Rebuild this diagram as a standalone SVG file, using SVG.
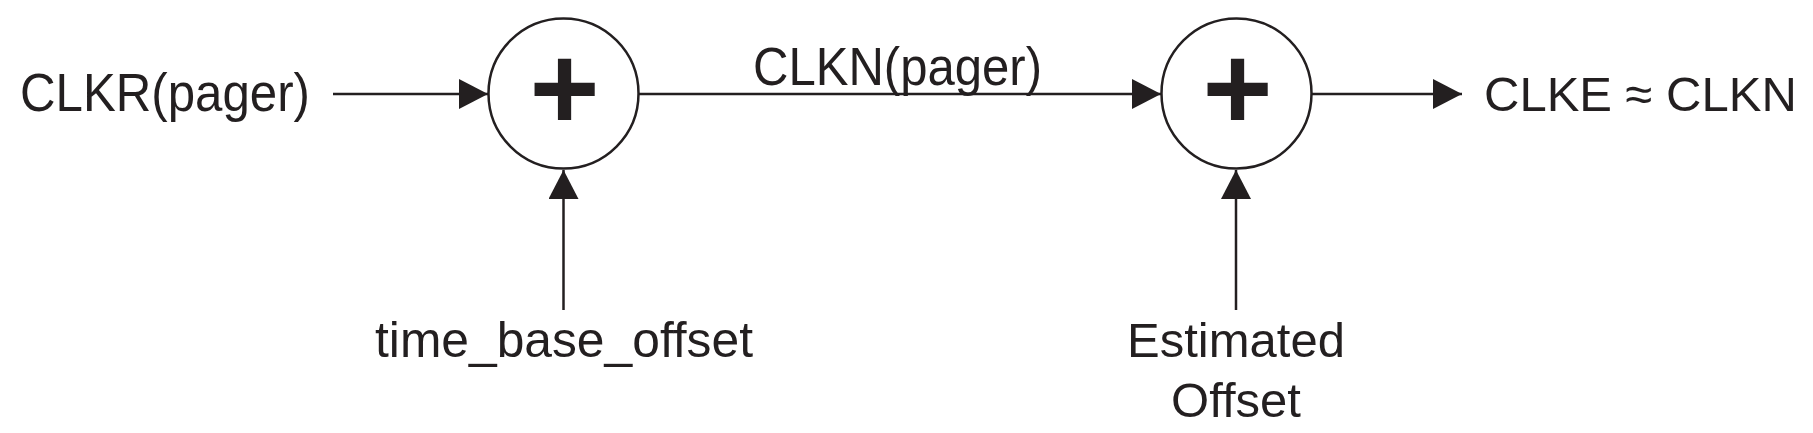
<svg xmlns="http://www.w3.org/2000/svg" width="1813" height="433" viewBox="0 0 1813 433">
<style>
  .lbl { font-family: "Liberation Sans", Arial, sans-serif; fill: #231f20; }
  .edge { stroke: #231f20; stroke-width: 2.5; fill: none; }
  .sum { stroke: #231f20; stroke-width: 2.5; fill: #ffffff; }
  .plus { font-family: "Liberation Sans", Arial, sans-serif; font-weight: bold; fill: #231f20; }
</style>
<defs>
  <marker id="arrow" markerUnits="userSpaceOnUse" markerWidth="30" markerHeight="31" refX="29" refY="15" orient="auto">
    <path d="M0,0 L29,15 L0,30 z" fill="#231f20"/>
  </marker>
</defs>
<rect width="1813" height="433" fill="#ffffff"/>
<g id="connectors">
  <line class="edge" x1="333" y1="94" x2="488" y2="94" marker-end="url(#arrow)"/>
  <line class="edge" x1="639" y1="94" x2="1161" y2="94" marker-end="url(#arrow)"/>
  <line class="edge" x1="1312" y1="94" x2="1462" y2="94" marker-end="url(#arrow)"/>
  <line class="edge" x1="563.5" y1="310" x2="563.5" y2="170" marker-end="url(#arrow)"/>
  <line class="edge" x1="1236" y1="310" x2="1236" y2="170" marker-end="url(#arrow)"/>
  <text class="lbl" x="753" y="85" font-size="53" textLength="289" lengthAdjust="spacingAndGlyphs">CLKN(pager)</text>
</g>
<g id="input">
  <text class="lbl" x="20" y="111" font-size="53" textLength="290" lengthAdjust="spacingAndGlyphs">CLKR(pager)</text>
</g>
<g id="sum1">
  <circle class="sum" cx="563.5" cy="93.5" r="75"/>
  <text class="plus" x="564.5" y="130" font-size="120" text-anchor="middle">+</text>
</g>
<g id="time_base_offset">
  <text class="lbl" x="375" y="357" font-size="50" textLength="378" lengthAdjust="spacingAndGlyphs">time_base_offset</text>
</g>
<g id="sum2">
  <circle class="sum" cx="1236.5" cy="93.5" r="75"/>
  <text class="plus" x="1237.5" y="130" font-size="120" text-anchor="middle">+</text>
</g>
<g id="estimated_offset">
  <text class="lbl" x="1236" y="357" font-size="49" text-anchor="middle">Estimated</text>
  <text class="lbl" x="1236" y="417" font-size="49" text-anchor="middle">Offset</text>
</g>
<g id="output">
  <text class="lbl" x="1484" y="111" font-size="49">CLKE ≈ CLKN</text>
</g>
</svg>
